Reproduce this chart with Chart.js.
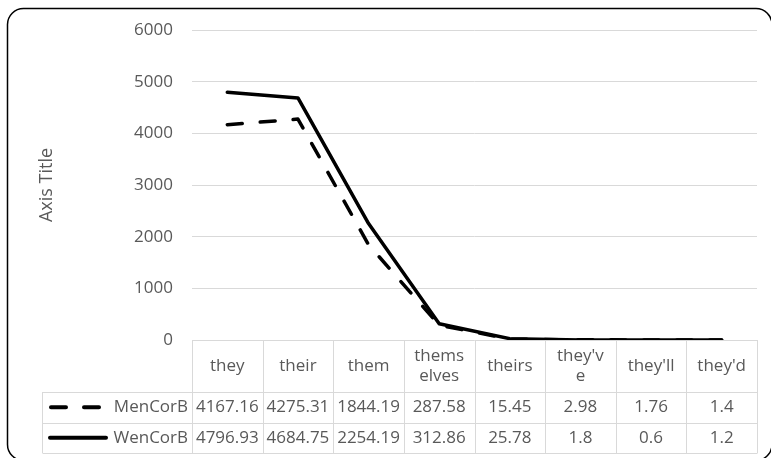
<!DOCTYPE html>
<html>
<head>
<meta charset="utf-8">
<script src="https://cdn.jsdelivr.net/npm/chart.js@4/dist/chart.umd.min.js"></script>
<style>
  html, body { margin: 0; padding: 0; background: #fff; }
  #wrap { width: 771px; height: 458px; position: relative; }
</style>
</head>
<body>
<div id="wrap"><canvas id="c" width="771" height="458"></canvas></div>
<script>
// Pronoun categories (header cells of the data table, wrapped as shown)
const categories = ["they", "their", "them", ["thems", "elves"], "theirs", ["they'v", "e"], "they'll", "they'd"];
const seriesNames = ["MenCorB", "WenCorB"];
const menCorB = [4167.16, 4275.31, 1844.19, 287.58, 15.45, 2.98, 1.76, 1.4];
const wenCorB = [4796.93, 4684.75, 2254.19, 312.86, 25.78, 1.8, 0.6, 1.2];
const yMin = 0, yMax = 6000, yStep = 1000;
const yTitle = "Axis Title";

const FONT = "'Open Sans', 'DejaVu Sans', sans-serif";
const TEXT = "#595959";
const GRID = "#d9d9d9";
const DASH = [15, 18];

// Rounded frame around the whole chart
const framePlugin = {
  id: 'frame',
  beforeDraw(chart) {
    const ctx = chart.ctx;
    ctx.save();
    ctx.fillStyle = '#fff';
    ctx.fillRect(0, 0, chart.width, chart.height);
    ctx.beginPath();
    ctx.roundRect(7.5, 8.5, 764.5, 452, 16);
    ctx.strokeStyle = '#000';
    ctx.lineWidth = 1.5;
    ctx.stroke();
    ctx.restore();
  }
};

// Data table under the plot: category header row + one row per series with its line key
const tablePlugin = {
  id: 'dataTable',
  afterDraw(chart) {
    const ctx = chart.ctx;
    const x = chart.scales.x;
    const area = chart.chartArea;
    const n = categories.length;
    const colW = (x.right - x.left) / n;
    const top = area.bottom;
    const headH = 52;
    const rowH = 30.5;
    const rowsTop = top + headH;
    const bottom = rowsTop + rowH * seriesNames.length;
    const tableLeft = 42.5;

    ctx.save();
    ctx.strokeStyle = GRID;
    ctx.lineWidth = 1;
    // vertical lines
    for (let i = 0; i <= n; i++) {
      const px = Math.round(x.left + colW * i) + 0.5;
      ctx.beginPath();
      ctx.moveTo(px, top);
      ctx.lineTo(px, bottom);
      ctx.stroke();
    }
    ctx.beginPath();
    ctx.moveTo(tableLeft, rowsTop);
    ctx.lineTo(tableLeft, bottom);
    ctx.stroke();
    // horizontal lines
    for (let r = 0; r <= seriesNames.length; r++) {
      const py = Math.round(rowsTop + rowH * r) + 0.5;
      ctx.beginPath();
      ctx.moveTo(tableLeft, py);
      ctx.lineTo(Math.round(x.right) + 0.5, py);
      ctx.stroke();
    }

    ctx.fillStyle = TEXT;
    ctx.font = "17px " + FONT;
    ctx.textAlign = 'center';
    ctx.textBaseline = 'middle';
    // header labels
    categories.forEach((c, i) => {
      const cx = x.getPixelForValue(i);
      const lines = Array.isArray(c) ? c : [c];
      const lh = 20;
      const y0 = top + headH / 2 - (lines.length - 1) * lh / 2;
      lines.forEach((t, k) => ctx.fillText(t, cx, y0 + k * lh));
    });

    // series rows
    const seriesVals = [menCorB, wenCorB];
    seriesNames.forEach((name, r) => {
      const cy = rowsTop + rowH * r + rowH / 2;
      seriesVals[r].forEach((v, i) => {
        ctx.fillText(String(v), x.getPixelForValue(i), cy);
      });
      ctx.textAlign = 'right';
      ctx.fillText(name, x.left - 4, cy);
      ctx.textAlign = 'center';
      // line key
      ctx.save();
      ctx.strokeStyle = '#000';
      ctx.lineWidth = 4;
      ctx.lineCap = 'round';
      if (r === 0) ctx.setLineDash(DASH);
      ctx.beginPath();
      ctx.moveTo(r === 0 ? 51 : 50, cy);
      ctx.lineTo(106, cy);
      ctx.stroke();
      ctx.restore();
    });
    ctx.restore();
  }
};

new Chart(document.getElementById('c'), {
  type: 'line',
  data: {
    labels: categories,
    datasets: [
      {
        label: seriesNames[0], data: menCorB,
        borderColor: '#000', borderWidth: 3.5, borderDash: DASH,
        borderCapStyle: 'round', borderJoinStyle: 'round',
        pointRadius: 0, tension: 0, fill: false
      },
      {
        label: seriesNames[1], data: wenCorB,
        borderColor: '#000', borderWidth: 3.5,
        borderCapStyle: 'round', borderJoinStyle: 'round',
        pointRadius: 0, tension: 0, fill: false
      }
    ]
  },
  options: {
    responsive: false,
    animation: false,
    devicePixelRatio: 1,
    layout: { padding: { left: 0, top: 30, right: 14, bottom: 118 } },
    plugins: { legend: { display: false }, tooltip: { enabled: false } },
    scales: {
      x: {
        type: 'category',
        offset: true,
        display: false
      },
      y: {
        min: yMin, max: yMax,
        ticks: {
          stepSize: yStep, color: TEXT, padding: 19,
          font: { family: FONT, size: 17 },
          callback: (v) => String(v)
        },
        grid: { color: GRID, lineWidth: 1, drawTicks: false },
        border: { display: false },
        title: {
          display: true, text: yTitle, color: TEXT,
          font: { family: FONT, size: 18 },
          padding: { top: 36, bottom: 0 }
        },
        afterFit(scale) { scale.width = 192; }
      }
    }
  },
  plugins: [framePlugin, tablePlugin]
});
</script>
</body>
</html>
